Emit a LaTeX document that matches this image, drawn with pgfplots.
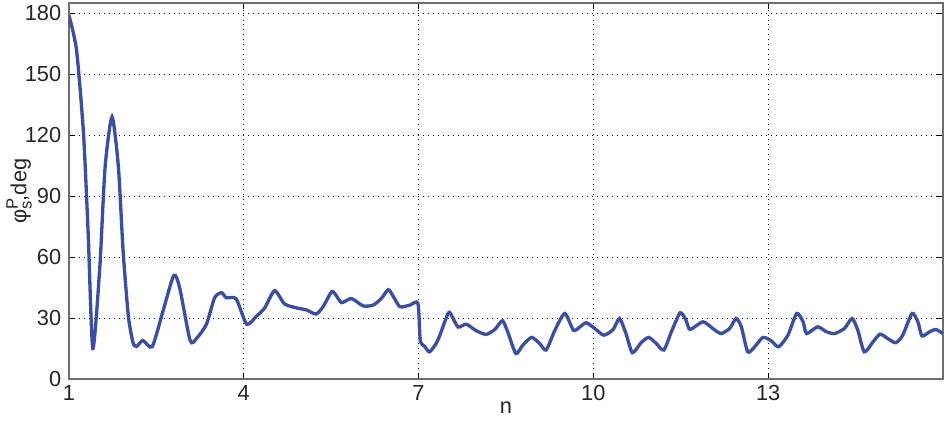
\documentclass[border=0pt]{standalone}
\usepackage{pgfplots}
\pgfplotsset{compat=1.18}
\usepackage{fontspec}
\setmainfont{Liberation Sans}
\definecolor{curve}{RGB}{58,78,166}
\definecolor{frame}{RGB}{110,110,110}
\begin{document}
\fontsize{10.5}{12}\selectfont
\begin{tikzpicture}
\useasboundingbox (-33.2pt,-23.1pt) rectangle (422pt,182.6pt);
\begin{axis}[
  at={(0,0)}, anchor=south west,
  scale only axis,
  width=421pt, height=181.1pt,
  xmin=1, xmax=16, ymin=0, ymax=185,
  xtick={1,4,7,10,13},
  ytick={0,30,60,90,120,150,180},
  /pgf/number format/assume math mode=true,
  tick label style={font=\fontsize{10.5}{12}\selectfont, text=black!85},
  label style={text=black!85},
  grid=major,
  major grid style={black, dotted, line width=0.5pt},
  axis line style={frame, line width=0.9pt},
  tick style={black, line width=0.5pt},
  tick align=inside,
  major tick length=3pt,
  xlabel={n},
  ylabel={φ\rlap{\raisebox{0.75ex}{\fontsize{8}{9}\selectfont P}}\raisebox{-0.45ex}{\fontsize{8}{9}\selectfont s},deg},
  xlabel style={at={(axis description cs:0.5,-0.077)}, anchor=center},
  ylabel style={at={(axis description cs:-0.057,0.5)}, anchor=center},
  xticklabel style={yshift=0.5pt},
]
\addplot[curve, line width=1.6pt, smooth, tension=0.4] coordinates {
(1.00,179)(1.13,162)(1.25,121)(1.33,72)(1.41,15)(1.53,55)(1.62,104)(1.74,129)
(1.85,104)(1.93,63)(2.02,31)(2.10,18)(2.16,16)(2.27,19)(2.43,16)(2.62,34)(2.80,51)
(2.90,45)(3.08,19)(3.19,20)(3.36,27)(3.50,40)(3.62,42.5)(3.70,40)(3.87,39.5)
(4.05,27)(4.22,31)(4.36,35)(4.53,43.5)(4.70,37)(4.91,35)(5.08,34)(5.24,32)
(5.36,35.5)(5.51,43)(5.59,41)(5.68,37.6)(5.85,39.6)(6.05,36)(6.22,36.4)(6.36,39.6)
(6.48,44)(6.56,41)(6.68,35.6)(6.85,36.4)(6.99,37.2)(7.03,19)(7.11,16)(7.19,13.4)
(7.33,19)(7.51,32.5)(7.58,30.6)(7.68,25.6)(7.82,27)(7.99,23.8)(8.16,22)(8.31,24.4)
(8.44,28.7)(8.53,23.3)(8.67,12.6)(8.79,16.7)(8.94,20.5)(9.08,17.5)(9.19,14.3)
(9.34,24)(9.51,32.3)(9.66,24)(9.77,25.7)(9.88,27.7)(10.02,25)(10.18,21.6)
(10.34,24.4)(10.45,29.8)(10.56,22.4)(10.67,13)(10.82,17.9)(10.95,20.5)(11.08,17.5)
(11.21,14.3)(11.34,23.3)(11.49,32.6)(11.59,29)(11.66,24.4)(11.88,28.2)(12.05,24.9)
(12.19,22.4)(12.34,24.9)(12.45,29.8)(12.54,25.7)(12.65,13.4)(12.77,15.9)(12.91,20.5)
(13.05,18.9)(13.18,15.9)(13.34,21.6)(13.49,32.3)(13.60,28.2)(13.66,22.4)(13.85,25.7)
(14.00,23.3)(14.14,22.4)(14.31,24.9)(14.44,29.8)(14.54,24)(14.65,13.4)(14.80,18.3)
(14.92,22.1)(15.05,20)(15.19,17.9)(15.31,21.6)(15.47,32.3)(15.57,28.2)(15.64,21.2)
(15.77,23.3)(15.88,24.4)(16.00,22.4)
};
\end{axis}
\end{tikzpicture}
\end{document}
